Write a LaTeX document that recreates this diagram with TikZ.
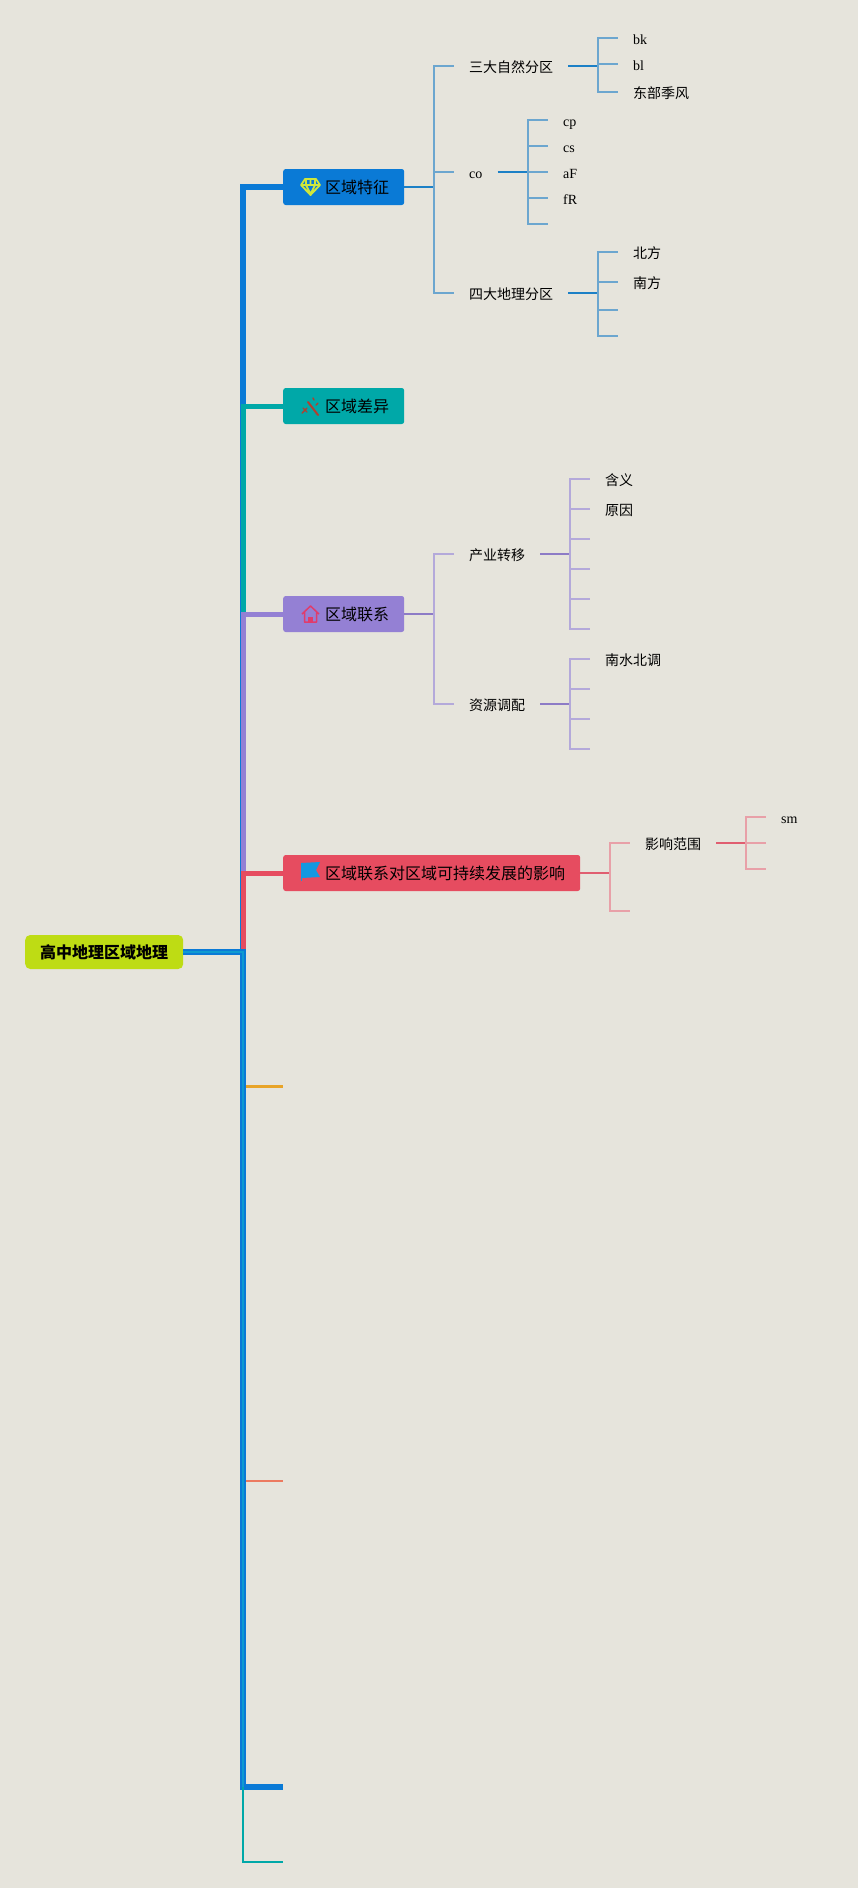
\documentclass[tikz,border=0pt]{standalone}
\usepackage{fontspec}
\setmainfont{Liberation Serif}
\newfontfamily\cjk{Noto Sans CJK SC}
\definecolor{mmback}{HTML}{E6E4DC}
\definecolor{mmroot}{HTML}{BEDC14}
\definecolor{mmblue}{HTML}{0A7AD6}
\definecolor{mmbluelink}{HTML}{1C80C6}
\definecolor{mmbluesub}{HTML}{6CA6CF}
\definecolor{mmcyan}{HTML}{0F9AD0}
\definecolor{mmteal}{HTML}{00A8A8}
\definecolor{mmpurple}{HTML}{9480D4}
\definecolor{mmpurplelink}{HTML}{8D7BC6}
\definecolor{mmpurplesub}{HTML}{B4A9DA}
\definecolor{mmred}{HTML}{E64C60}
\definecolor{mmredlink}{HTML}{E05E70}
\definecolor{mmredsub}{HTML}{E8A0A8}
\definecolor{mmorange}{HTML}{E8A428}
\definecolor{mmsalmon}{HTML}{EC7A60}
\definecolor{mmgem}{HTML}{CFE63C}
\definecolor{mmwand}{HTML}{B04030}
\definecolor{mmhouse}{HTML}{E03C6C}
\definecolor{mmflag}{HTML}{1598E0}
\tikzset{
  rootbox/.style={draw=none,fill=mmroot,rounded corners=5pt,anchor=west,inner xsep=15pt,inner ysep=0pt,minimum height=34pt,font=\fontsize{16}{18}\selectfont\cjk\bfseries},
  topicbox/.style={fill=#1,rounded corners=2.5pt,anchor=west,inner xsep=15pt,inner ysep=0pt,minimum height=36pt,font=\fontsize{16}{18}\selectfont\cjk},
  midtext/.style={anchor=west,inner xsep=15pt,inner ysep=0pt,text height=12pt,text depth=0pt,font=\fontsize{14}{16}\selectfont\cjk},
  midlatin/.style={anchor=west,inner xsep=15pt,inner ysep=0pt,text height=12pt,text depth=0pt,font=\fontsize{14}{16}\selectfont},
  trunk/.style={line width=6pt,line join=miter},
  thintrunk/.style={line width=5pt,line join=miter},
  sublink/.style={line width=2pt},
  subline/.style={line width=1.6pt}
}
\begin{document}
\begin{tikzpicture}[x=1pt,y=-1pt]
\path[use as bounding box,fill=mmback] (0,0) rectangle (858,1888);
% nodes
\node[rootbox] (root) at (25,952) {高中地理区域地理};
\node[topicbox=mmblue] (feature) at (283,187) {\hspace*{27pt}区域特征};
\node[topicbox=mmteal] (differ) at (283,406) {\hspace*{27pt}区域差异};
\node[topicbox=mmpurple] (link) at (283,614) {\hspace*{27pt}区域联系};
\node[topicbox=mmred] (impact) at (283,873) {\hspace*{27pt}区域联系对区域可持续发展的影响};
\coordinate (spine) at (243,952);
\coordinate (orangestart) at (243,1086);
\coordinate (orangeend) at (283,1086);
\coordinate (salmonstart) at (243,1481);
\coordinate (salmonend) at (283,1481);
\coordinate (blueend) at (283,1787);
\coordinate (tealend) at (283,1862);
\coordinate (bluecorner) at (243,1787);
% trunk, later ones lie on top
\draw[mmorange,line width=3pt] (orangestart) -- (orangeend);
\draw[mmsalmon,line width=1.6pt] (salmonstart) -- (salmonend);
\draw[mmblue,trunk] (spine) |- (blueend);
\draw[mmblue,trunk] (spine) |- (feature.west);
\draw[mmteal,line width=2.6pt] (bluecorner) |- (tealend);
\draw[mmteal,thintrunk] (spine) |- (differ.west);
\draw[mmpurple,thintrunk] (spine) |- (link.west);
\draw[mmred,thintrunk] (spine) |- (impact.west);
\draw[mmblue,trunk] (root.east) -| (bluecorner);
\draw[mmcyan,line width=2.6pt] (root.east) -| (bluecorner);
% feature branch
\coordinate (featurefork) at (434,187);
\node[midtext] (nature) at (454,66) {三大自然分区};
\node[midlatin] (co) at (454,172) {co};
\node[midtext] (fourzone) at (454,293) {四大地理分区};
\draw[mmbluelink,sublink] (feature.east) -- (featurefork);
\draw[mmbluesub,subline] (featurefork) |- (nature.west);
\draw[mmbluesub,subline] (featurefork) |- (co.west);
\draw[mmbluesub,subline] (featurefork) |- (fourzone.west);
\coordinate (naturefork) at (598,66);
\node[midlatin] (bk) at (618,38) {bk};
\node[midlatin] (bl) at (618,64) {bl};
\node[midtext] (monsoon) at (618,92) {东部季风};
\draw[mmbluelink,sublink] (nature.east) -- (naturefork);
\draw[mmbluesub,subline] (naturefork) |- (bk.west);
\draw[mmbluesub,subline] (naturefork) |- (bl.west);
\draw[mmbluesub,subline] (naturefork) |- (monsoon.west);
\coordinate (cofork) at (528,172);
\node[midlatin] (cp) at (548,120) {cp};
\node[midlatin] (cs) at (548,146) {cs};
\node[midlatin] (aF) at (548,172) {aF};
\node[midlatin] (fR) at (548,198) {fR};
\coordinate (coend) at (548,224);
\draw[mmbluelink,sublink] (co.east) -- (cofork);
\draw[mmbluesub,subline] (cofork) |- (cp.west);
\draw[mmbluesub,subline] (cofork) |- (cs.west);
\draw[mmbluesub,subline] (cofork) |- (aF.west);
\draw[mmbluesub,subline] (cofork) |- (fR.west);
\draw[mmbluesub,subline] (cofork) |- (coend);
\coordinate (fourfork) at (598,293);
\node[midtext] (north) at (618,252) {北方};
\node[midtext] (south) at (618,282) {南方};
\coordinate (fourc) at (618,310);
\coordinate (fourd) at (618,336);
\draw[mmbluelink,sublink] (fourzone.east) -- (fourfork);
\draw[mmbluesub,subline] (fourfork) |- (north.west);
\draw[mmbluesub,subline] (fourfork) |- (south.west);
\draw[mmbluesub,subline] (fourfork) |- (fourc);
\draw[mmbluesub,subline] (fourfork) |- (fourd);
% link branch
\coordinate (linkfork) at (434,614);
\node[midtext] (industry) at (454,554) {产业转移};
\node[midtext] (resource) at (454,704) {资源调配};
\draw[mmpurplelink,sublink] (link.east) -- (linkfork);
\draw[mmpurplesub,subline] (linkfork) |- (industry.west);
\draw[mmpurplesub,subline] (linkfork) |- (resource.west);
\coordinate (industryfork) at (570,554);
\node[midtext] (meaning) at (590,479) {含义};
\node[midtext] (reason) at (590,509) {原因};
\coordinate (industryc) at (590,539);
\coordinate (industryd) at (590,569);
\coordinate (industrye) at (590,599);
\coordinate (industryf) at (590,629);
\draw[mmpurplelink,sublink] (industry.east) -- (industryfork);
\draw[mmpurplesub,subline] (industryfork) |- (meaning.west);
\draw[mmpurplesub,subline] (industryfork) |- (reason.west);
\draw[mmpurplesub,subline] (industryfork) |- (industryc);
\draw[mmpurplesub,subline] (industryfork) |- (industryd);
\draw[mmpurplesub,subline] (industryfork) |- (industrye);
\draw[mmpurplesub,subline] (industryfork) |- (industryf);
\coordinate (resourcefork) at (570,704);
\node[midtext] (transfer) at (590,659) {南水北调};
\coordinate (resourceb) at (590,689);
\coordinate (resourcec) at (590,719);
\coordinate (resourced) at (590,749);
\draw[mmpurplelink,sublink] (resource.east) -- (resourcefork);
\draw[mmpurplesub,subline] (resourcefork) |- (transfer.west);
\draw[mmpurplesub,subline] (resourcefork) |- (resourceb);
\draw[mmpurplesub,subline] (resourcefork) |- (resourcec);
\draw[mmpurplesub,subline] (resourcefork) |- (resourced);
% impact branch
\coordinate (impactfork) at (610,873);
\node[midtext] (scope) at (630,843) {影响范围};
\coordinate (impactend) at (630,911);
\draw[mmredlink,sublink] (impact.east) -- (impactfork);
\draw[mmredsub,subline] (impactfork) |- (scope.west);
\draw[mmredsub,subline] (impactfork) |- (impactend);
\coordinate (scopefork) at (746,843);
\node[midlatin] (sm) at (766,817) {sm};
\coordinate (scopeb) at (766,843);
\coordinate (scopec) at (766,869);
\draw[mmredlink,sublink] (scope.east) -- (scopefork);
\draw[mmredsub,subline] (scopefork) |- (sm.west);
\draw[mmredsub,subline] (scopefork) |- (scopeb);
\draw[mmredsub,subline] (scopefork) |- (scopec);
% icons
\draw[mmgem,line width=1.8pt,line join=round] (305,179) -- (316,179) -- (320,185) -- (310.5,195) -- (301,185) -- cycle (301,185) -- (320,185) (306,185) -- (310.5,194) -- (315,185) (306,179) -- (306,185) (310.5,179) -- (310.5,185) (315,179) -- (315,185);
\draw[mmwand,line width=2pt,line cap=round] (308,402) -- (318,415);
\draw[mmwand,line width=1.4pt,line cap=round] (302,413) -- (307,408) (303,408) -- (307,412) (313,398) -- (314,400) (318,403) -- (316,405);
\draw[mmhouse,line width=1.5pt,line join=round] (302,614) -- (310.5,606) -- (319,614) (304.5,612) -- (304.5,622) -- (316.5,622) -- (316.5,612);
\fill[mmhouse] (308,617) rectangle (313,622);
\fill[mmflag] (301,863) -- (320,862) -- (316,870) -- (320,877) -- (302,878) -- cycle;
\draw[mmflag,line width=1pt] (301,863) -- (301,881);
\end{tikzpicture}
\end{document}
